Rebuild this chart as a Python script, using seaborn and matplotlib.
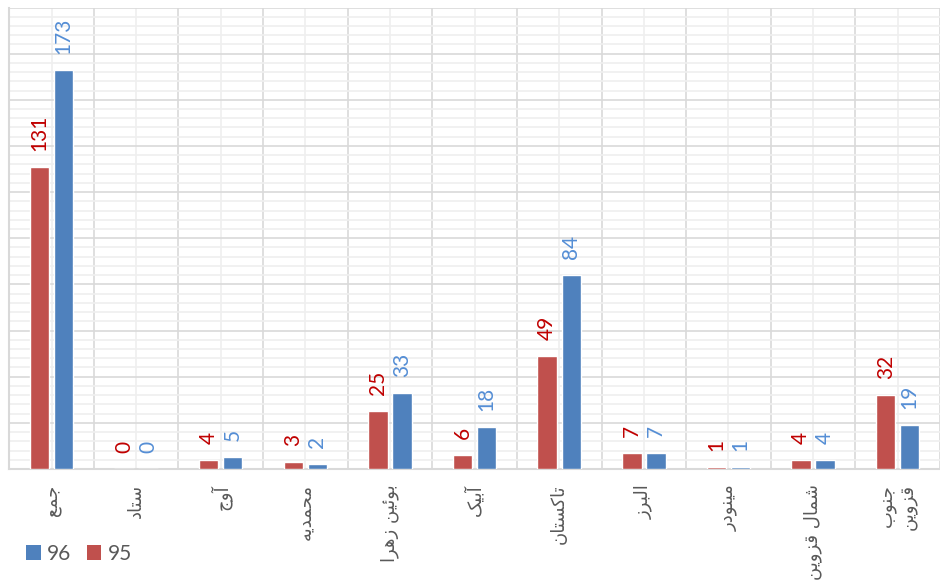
import numpy as np
import pandas as pd
import matplotlib
matplotlib.use("Agg")
import matplotlib.pyplot as plt
from matplotlib.patches import Patch
from matplotlib.ticker import MultipleLocator, FixedLocator
import seaborn as sns

# ---- data ----
categories = ["جمع", "ستاد", "آوج", "محمدیه", "بوئین زهرا", "آبیک",
              "تاکستان", "البرز", "مینودر", "شمال قزوین", "جنوب\nقزوین"]
values_95 = [131, 0, 4, 3, 25, 6, 49, 7, 1, 4, 32]
values_96 = [173, 0, 5, 2, 33, 18, 84, 7, 1, 4, 19]
series_names = ["95", "96"]

# ---- minimal Arabic/Persian shaping so matplotlib shows joined letters ----
FORMS = {
    "\u0627": ("\uFE8D", "\uFE8E"),
    "\u0622": ("\uFE81", "\uFE82"),
    "\u0628": ("\uFE8F", "\uFE90", "\uFE91", "\uFE92"),
    "\u062A": ("\uFE95", "\uFE96", "\uFE97", "\uFE98"),
    "\u062C": ("\uFE9D", "\uFE9E", "\uFE9F", "\uFEA0"),
    "\u062D": ("\uFEA1", "\uFEA2", "\uFEA3", "\uFEA4"),
    "\u062F": ("\uFEA9", "\uFEAA"),
    "\u0631": ("\uFEAD", "\uFEAE"),
    "\u0632": ("\uFEAF", "\uFEB0"),
    "\u0633": ("\uFEB1", "\uFEB2", "\uFEB3", "\uFEB4"),
    "\u0634": ("\uFEB5", "\uFEB6", "\uFEB7", "\uFEB8"),
    "\u0639": ("\uFEC9", "\uFECA", "\uFECB", "\uFECC"),
    "\u0642": ("\uFED5", "\uFED6", "\uFED7", "\uFED8"),
    "\u0644": ("\uFEDD", "\uFEDE", "\uFEDF", "\uFEE0"),
    "\u0645": ("\uFEE1", "\uFEE2", "\uFEE3", "\uFEE4"),
    "\u0646": ("\uFEE5", "\uFEE6", "\uFEE7", "\uFEE8"),
    "\u0647": ("\uFEE9", "\uFEEA", "\uFEEB", "\uFEEC"),
    "\u0648": ("\uFEED", "\uFEEE"),
    "\u0626": ("\uFE89", "\uFE8A", "\uFE8B", "\uFE8C"),
    "\u06CC": ("\uFBFC", "\uFBFD", "\uFBFE", "\uFBFF"),
    "\u06A9": ("\uFB8E", "\uFB8F", "\uFB90", "\uFB91"),
}


def shape_line(s):
    out = []
    n = len(s)
    for i, ch in enumerate(s):
        f = FORMS.get(ch)
        if f is None:
            out.append(ch)
            continue
        prev = s[i - 1] if i > 0 else None
        nxt = s[i + 1] if i < n - 1 else None
        join_prev = prev is not None and prev in FORMS and len(FORMS[prev]) == 4
        join_next = len(f) == 4 and nxt is not None and nxt in FORMS
        if join_prev and join_next:
            out.append(f[3])
        elif join_prev:
            out.append(f[1])
        elif join_next:
            out.append(f[2])
        else:
            out.append(f[0])
    return "".join(out)[::-1]


def shape(s):
    return "\n".join(shape_line(line) for line in s.split("\n"))


df = pd.DataFrame({
    "category": categories * 2,
    "value": values_95 + values_96,
    "year": [series_names[0]] * len(categories) + [series_names[1]] * len(categories),
})

RED = "#C0504D"
BLUE = "#4F81BD"
RED_TXT = "#C00000"
BLUE_TXT = "#558ED5"
GRAY_TXT = "#595959"

sns.set_theme(style="white")
plt.rcParams["font.family"] = ["Lato", "DejaVu Sans"]

fig = plt.figure(figsize=(9.4, 5.8), dpi=100)
ax = fig.add_axes([9.2 / 940, 1 - 469 / 580, 1 - 9.2 / 940, (469 - 7.5) / 580])

sns.barplot(data=df, x="category", y="value", hue="year",
            hue_order=series_names, order=categories,
            palette=[RED, BLUE], width=0.568, gap=0.19,
            saturation=1, legend=False, ax=ax, zorder=3)

ax.set_xlim(-0.5, len(categories) - 0.5)
ax.set_ylim(0, 200)

# grid
ax.yaxis.set_major_locator(MultipleLocator(20))
ax.yaxis.set_minor_locator(MultipleLocator(4))
ax.xaxis.set_minor_locator(FixedLocator(np.arange(-0.5, len(categories), 1.0)))
ax.grid(False)
ax.grid(axis="y", which="major", color="#D9D9D9", lw=1.2, zorder=1)
ax.grid(axis="y", which="minor", color="#EFEFEF", lw=1.2, zorder=0)
ax.grid(axis="x", which="minor", color="#D9D9D9", lw=1.2, zorder=1)
ax.grid(axis="x", which="major", color="#EFEFEF", lw=1.2, zorder=0)
ax.set_axisbelow(True)

for side in ["top", "right"]:
    ax.spines[side].set_visible(False)
for side in ["left", "bottom"]:
    ax.spines[side].set_color("#D9D9D9")
    ax.spines[side].set_linewidth(1.5)

ax.set_yticklabels([])
ax.tick_params(axis="y", which="both", length=0)
ax.tick_params(axis="x", which="both", length=0, pad=11)
ax.set_xticks(range(len(categories)))
ax.set_xticklabels([shape(c) for c in categories], rotation=90, ha="center",
                   va="top", multialignment="right", fontsize=13,
                   color=GRAY_TXT, family=["DejaVu Sans"])
ax.set_xlabel("")
ax.set_ylabel("")

# data labels
for cont, vals, col in zip(ax.containers, [values_95, values_96], [RED_TXT, BLUE_TXT]):
    ax.bar_label(cont, labels=[str(v) for v in vals], padding=11.5,
                 rotation=90, color=col, fontsize=15)

# legend (96 first, as in the reference)
handles = [Patch(facecolor=BLUE, edgecolor="none"), Patch(facecolor=RED, edgecolor="none")]
fig.legend(handles, ["96", "95"], loc="center left",
           bbox_to_anchor=(26 / 940, 1 - 554 / 580), ncol=2, frameon=False,
           fontsize=15, labelcolor=GRAY_TXT, handlelength=0.7, handleheight=0.7,
           handletextpad=0.3, columnspacing=0.75, borderpad=0, borderaxespad=0)

fig.savefig("out.png", dpi=100)
